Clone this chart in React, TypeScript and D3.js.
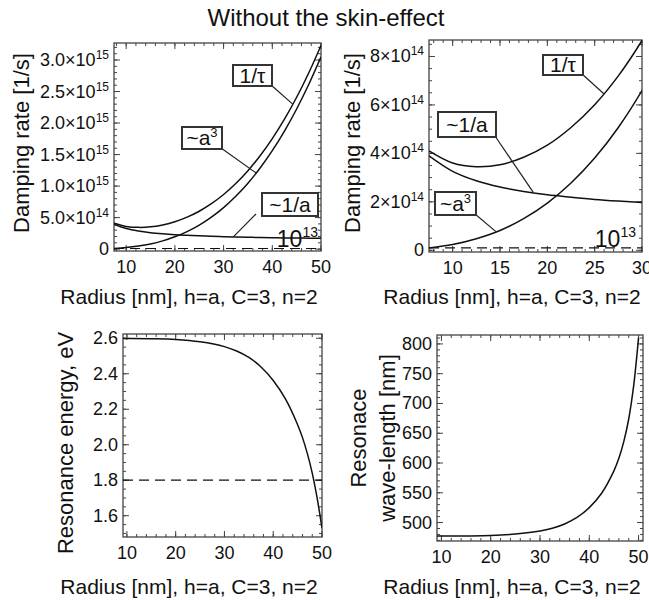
import { useEffect, useRef } from 'react';
import * as d3 from 'd3';

// damping rates, units of 1e14 1/s
const radius = [7.5, 10, 12.5, 15, 17.5, 20, 22.5, 25, 27.5, 30, 32.5, 35, 37.5, 40, 42.5, 45, 47.5, 50];
const rateInvA = [3.9, 3.26, 2.87, 2.61, 2.43, 2.29, 2.19, 2.1, 2.03, 1.97, 1.92, 1.88, 1.84, 1.81, 1.78, 1.76, 1.73, 1.71];
const rateCube = [0.1, 0.24, 0.48, 0.82, 1.31, 1.95, 2.78, 3.81, 5.07, 6.59, 8.38, 10.46, 12.87, 15.62, 18.73, 22.23, 26.15, 30.5];
const rateTotal = [4.1, 3.6, 3.45, 3.53, 3.84, 4.34, 5.07, 6.01, 7.2, 8.66, 10.4, 12.44, 14.81, 17.53, 20.61, 24.09, 27.98, 32.31];
const rateBulk = 0.1;

// resonance, lower panels
const radiusRes = [9, 10, 15, 20, 25, 30, 32.5, 35, 37.5, 40, 42.5, 45, 46, 47, 48, 49, 50];
const energy = [2.598, 2.598, 2.597, 2.593, 2.58, 2.553, 2.528, 2.492, 2.438, 2.362, 2.258, 2.113, 2.04, 1.95, 1.84, 1.7, 1.53];
const wavelength = [477.3, 477.3, 477.5, 478.2, 480.6, 485.7, 490.5, 497.6, 508.6, 525, 549.2, 586.8, 607.8, 635.9, 673.9, 729.4, 810.5];
const energyLine = 1.8;

const tlYTicks = [0, 5, 10, 15, 20, 25, 30];
const tlYLabels = [['0', ''], ['5.0', '14'], ['1.0', '15'], ['1.5', '15'], ['2.0', '15'], ['2.5', '15'], ['3.0', '15']];
const trYTicks = [0, 2, 4, 6, 8];
const trYLabels = [['0', ''], ['2', '14'], ['4', '14'], ['6', '14'], ['8', '14']];
const blYTicks = [1.6, 1.8, 2.0, 2.2, 2.4, 2.6];
const brYTicks = [500, 550, 600, 650, 700, 750, 800];
const xTicksWide = [10, 20, 30, 40, 50];
const xTicksNarrow = [10, 15, 20, 25, 30];

const xTitle = 'Radius [nm], h=a, C=3, n=2';
const FONT = '"Liberation Sans", Arial, sans-serif';

function panel(svg, id, xs, ys, o) {
  const g = svg.append('g');
  const [xa, xb] = xs.range();
  const [ya, yb] = ys.range();
  g.append('clipPath').attr('id', id)
    .append('rect').attr('x', xa).attr('y', yb).attr('width', xb - xa).attr('height', ya - yb);

  const segs = [];
  const inX = v => v >= xs.domain()[0] - 1e-9 && v <= xs.domain()[1] + 1e-9;
  const inY = v => v >= ys.domain()[0] - 1e-9 && v <= ys.domain()[1] + 1e-9;
  const addX = (vals, len) => vals.filter(inX).forEach(v => {
    const p = xs(v);
    segs.push([p, ya, p, ya - len]);
    segs.push([p, yb, p, yb + len]);
  });
  const addY = (vals, len) => vals.filter(inY).forEach(v => {
    const p = ys(v);
    segs.push([xa, p, xa + len, p]);
    segs.push([xb, p, xb - len, p]);
  });
  addX(o.xMinor, 3);
  addX(o.xMajor, 6);
  addY(o.yMinor, 3);
  addY(o.yMajor, 6);

  g.selectAll('line.tick').data(segs).join('line')
    .attr('class', 'tick')
    .attr('x1', d => d[0]).attr('y1', d => d[1])
    .attr('x2', d => d[2]).attr('y2', d => d[3])
    .attr('stroke', '#444').attr('stroke-width', 1);

  g.append('rect')
    .attr('x', xa).attr('y', yb).attr('width', xb - xa).attr('height', ya - yb)
    .attr('fill', 'none').attr('stroke', '#444').attr('stroke-width', 1.3);

  g.selectAll('text.xt').data(o.xMajor).join('text')
    .attr('class', 'xt')
    .attr('x', d => xs(d)).attr('y', ya + 22)
    .attr('text-anchor', 'middle').attr('font-size', 18)
    .text(d => d);

  o.yMajor.forEach((v, i) => {
    const t = g.append('text')
      .attr('x', xa - 5).attr('y', ys(v) + 6)
      .attr('text-anchor', 'end').attr('font-size', 18);
    const lab = o.yLabels ? o.yLabels[i] : [o.yFormat(v), ''];
    if (!lab[1]) t.text(lab[0]);
    else {
      t.append('tspan').text(lab[0] + '×10');
      t.append('tspan').attr('dy', -7).attr('font-size', 12).text(lab[1]);
    }
  });

  const plot = g.append('g').attr('clip-path', `url(#${id})`);
  return plot;
}

function curve(plot, xs, ys, xv, yv) {
  const pts = xv.map((x, i) => [x, yv[i]]);
  plot.append('path')
    .attr('d', d3.line().x(d => xs(d[0])).y(d => ys(d[1])).curve(d3.curveCatmullRom)(pts))
    .attr('fill', 'none').attr('stroke', '#111').attr('stroke-width', 1.5);
}

function hline(plot, xs, ys, v) {
  const [xa, xb] = xs.range();
  plot.append('line')
    .attr('x1', xa).attr('x2', xb).attr('y1', ys(v)).attr('y2', ys(v))
    .attr('stroke', '#111').attr('stroke-width', 1.2).attr('stroke-dasharray', '10,6');
}

function box(svg, x, y, w, h, main, sup, from, to) {
  svg.append('line')
    .attr('x1', from[0]).attr('y1', from[1]).attr('x2', to[0]).attr('y2', to[1])
    .attr('stroke', '#222').attr('stroke-width', 1.2);
  svg.append('rect').attr('x', x).attr('y', y).attr('width', w).attr('height', h)
    .attr('fill', 'white').attr('stroke', '#333').attr('stroke-width', 2);
  const t = svg.append('text').attr('x', x + w / 2).attr('y', y + h / 2 + 7)
    .attr('text-anchor', 'middle').attr('font-size', 21);
  t.append('tspan').text(main);
  if (sup) t.append('tspan').attr('dy', -8).attr('font-size', 13).text(sup);
}

function tenTo13(svg, xRight, yBase) {
  const t = svg.append('text').attr('x', xRight).attr('y', yBase)
    .attr('text-anchor', 'end').attr('font-size', 23);
  t.append('tspan').text('10');
  t.append('tspan').attr('dy', -10).attr('font-size', 14).text('13');
}

function vtitle(svg, cx, cy, txt) {
  svg.append('text')
    .attr('transform', `translate(${cx},${cy}) rotate(-90)`)
    .attr('text-anchor', 'middle').attr('dominant-baseline', 'central')
    .attr('font-size', 22).text(txt);
}

function htitle(svg, cx, y) {
  svg.append('text').attr('x', cx).attr('y', y)
    .attr('text-anchor', 'middle').attr('font-size', 21).text(xTitle);
}

export default function App() {
  const svgRef = useRef(null);

  useEffect(() => {
    const svg = d3.select(svgRef.current);
    svg.selectAll('*').remove();
    svg.attr('font-family', FONT).attr('fill', '#111');

    svg.append('text').attr('x', 326).attr('y', 26)
      .attr('text-anchor', 'middle').attr('font-size', 24)
      .text('Without the skin-effect');

    // top left
    const x1 = d3.scaleLinear().domain([7.5, 50]).range([114, 321]);
    const y1 = d3.scaleLinear().domain([-0.3, 32.7]).range([251, 43]);
    const p1 = panel(svg, 'c1', x1, y1, {
      xMajor: xTicksWide, xMinor: d3.range(8, 51, 2),
      yMajor: tlYTicks, yMinor: d3.range(0, 33, 1), yLabels: tlYLabels,
    });
    hline(p1, x1, y1, rateBulk);
    curve(p1, x1, y1, radius, rateInvA);
    curve(p1, x1, y1, radius, rateCube);
    curve(p1, x1, y1, radius, rateTotal);
    box(svg, 233, 65, 39, 21, '1/τ', '', [271, 85], [x1(44.2), y1(23)]);
    box(svg, 182, 127, 40, 22, '~a', '3', [221, 148], [x1(36.7), y1(12.06)]);
    box(svg, 262, 193, 56, 23, '~1/a', '', [256, 214], [x1(32), y1(1.93)]);
    tenTo13(svg, 318, 247);
    vtitle(svg, 21, 143, 'Damping rate [1/s]');
    htitle(svg, 189, 304);

    // top right
    const x2 = d3.scaleLinear().domain([7.5, 30]).range([429, 642]);
    const y2 = d3.scaleLinear().domain([-0.07, 8.68]).range([252, 40]);
    const p2 = panel(svg, 'c2', x2, y2, {
      xMajor: xTicksNarrow, xMinor: d3.range(8, 31, 1),
      yMajor: trYTicks, yMinor: d3.range(0, 8.75, 0.5), yLabels: trYLabels,
    });
    hline(p2, x2, y2, rateBulk);
    curve(p2, x2, y2, radius, rateInvA);
    curve(p2, x2, y2, radius, rateCube);
    curve(p2, x2, y2, radius, rateTotal);
    box(svg, 543, 55, 40, 20, '1/τ', '', [582, 74], [x2(26), y2(6.45)]);
    box(svg, 438, 112, 58, 25, '~1/a', '', [495, 136], [x2(18.5), y2(2.4)]);
    box(svg, 435, 192, 41, 23, '~a', '3', [475, 214], [x2(14.6), y2(0.76)]);
    tenTo13(svg, 636, 247);
    vtitle(svg, 352, 143, 'Damping rate [1/s]');
    htitle(svg, 512, 304);

    // bottom left
    const x3 = d3.scaleLinear().domain([9.2, 50]).range([123, 322]);
    const y3 = d3.scaleLinear().domain([1.48, 2.624]).range([537, 334]);
    const p3 = panel(svg, 'c3', x3, y3, {
      xMajor: xTicksWide, xMinor: d3.range(10, 51, 2),
      yMajor: blYTicks, yMinor: d3.range(1.5, 2.63, 0.05), yFormat: d3.format('.1f'),
    });
    hline(p3, x3, y3, energyLine);
    curve(p3, x3, y3, radiusRes, energy);
    vtitle(svg, 65, 443, 'Resonance energy, eV');
    htitle(svg, 189, 594);

    // bottom right
    const x4 = d3.scaleLinear().domain([9.1, 50.9]).range([437, 643]);
    const y4 = d3.scaleLinear().domain([469, 815]).range([541, 335]);
    const p4 = panel(svg, 'c4', x4, y4, {
      xMajor: xTicksWide, xMinor: d3.range(10, 51, 2),
      yMajor: brYTicks, yMinor: d3.range(470, 815, 10), yFormat: d3.format('d'),
    });
    curve(p4, x4, y4, radiusRes, wavelength);
    vtitle(svg, 358, 438, 'Resonace');
    vtitle(svg, 387, 438, 'wave-length [nm]');
    htitle(svg, 512, 594);
  }, []);

  return (
    <svg ref={svgRef} width={649} height={600}
      style={{ position: 'absolute', left: 0, top: 0, background: 'white' }} />
  );
}
